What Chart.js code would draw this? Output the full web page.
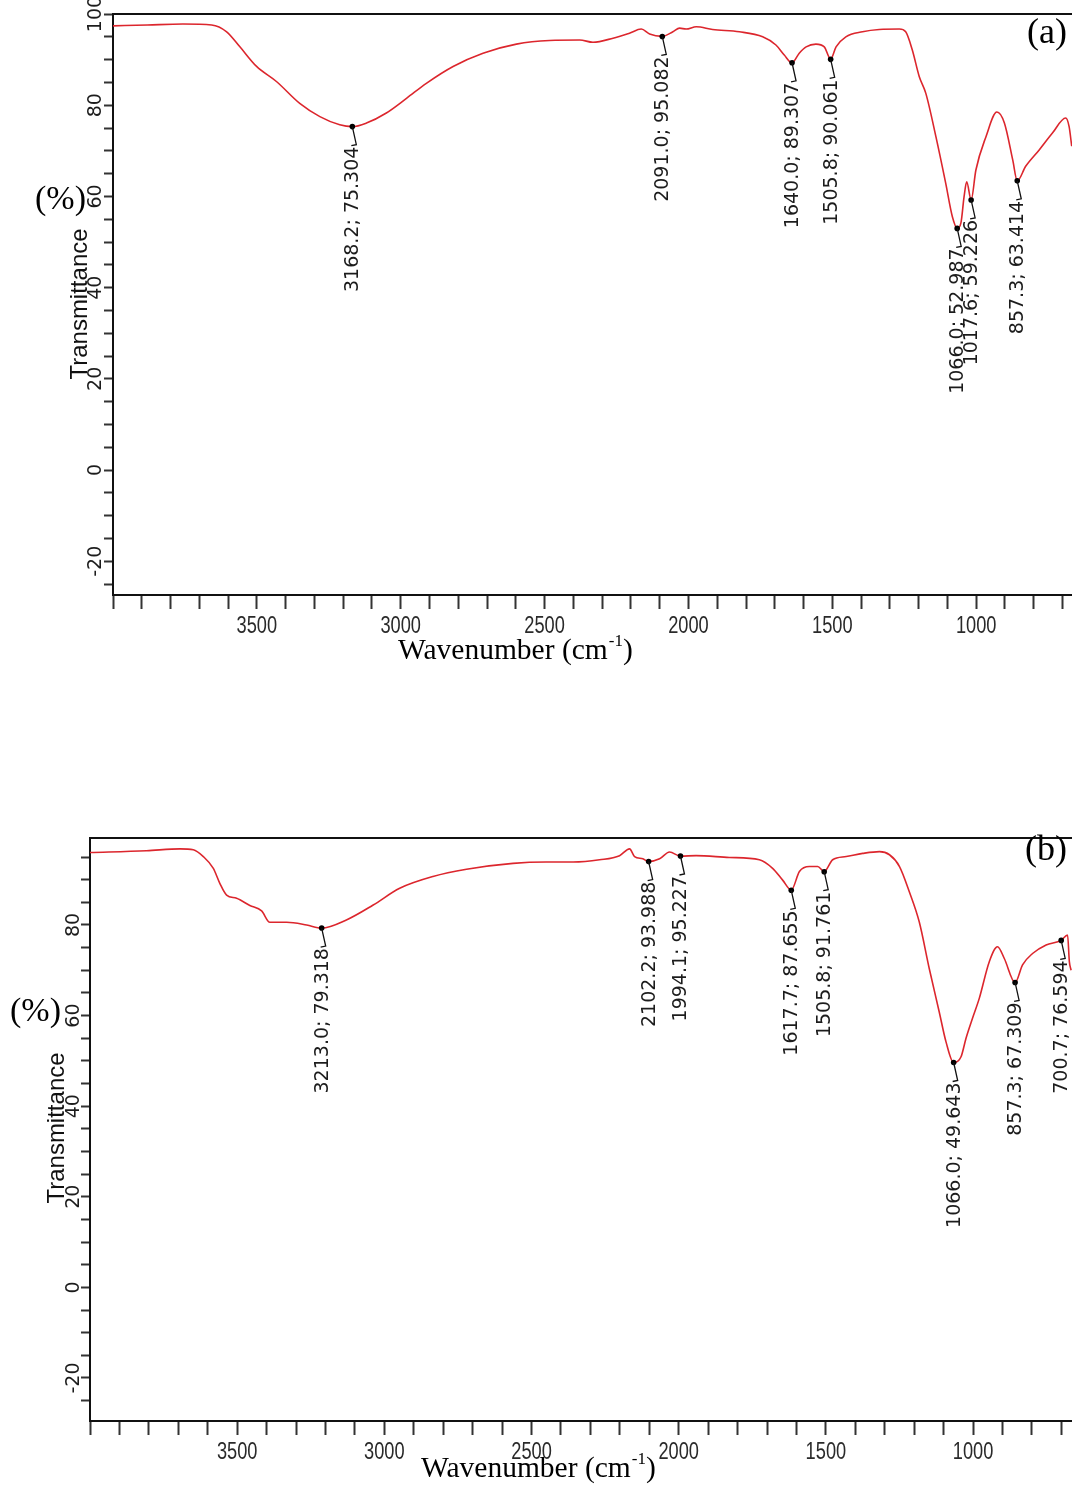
<!DOCTYPE html>
<html>
<head>
<meta charset="utf-8">
<script src="https://cdn.jsdelivr.net/npm/chart.js@4.4.0/dist/chart.umd.min.js"></script>
<style>
  body { margin: 0; background: #fff; overflow: hidden; width: 1072px; height: 1486px; position: relative; }
  canvas { position: absolute; left: 0; }
  #chartA { top: 0; }
  #chartB { top: 780px; }
</style>
</head>
<body>
<canvas id="chartA" width="1072" height="700"></canvas>
<canvas id="chartB" width="1072" height="706"></canvas>
<script>
// ---- spectrum (a) ----
const wavenumberA = [4000, 3880, 3757, 3657, 3605, 3559, 3501, 3432, 3351, 3281, 3212, 3168.2, 3119, 3050, 2980, 2911, 2818, 2714, 2598, 2483,
  2378, 2332, 2262, 2205, 2164, 2135, 2091, 2054, 2031, 2008, 1973, 1916, 1823, 1742, 1696, 1667, 1640, 1615, 1591, 1557,
  1528, 1505.8, 1487, 1453, 1395, 1337, 1267, 1245, 1222, 1198, 1175, 1140, 1106, 1083, 1066, 1053, 1042, 1033, 1017.6, 1001,
  966, 928, 902, 873, 857.3, 828, 781, 735, 689, 677, 668]
const transmittanceA = [97.4, 97.6, 97.8, 97.6, 96.1, 92.8, 88.5, 85.2, 80.4, 77.5, 75.7, 75.3, 76.1, 78.3, 81.5, 84.8, 88.5, 91.4, 93.4, 94.2,
  94.3, 93.8, 94.7, 95.8, 96.7, 95.6, 95.1, 96.1, 96.9, 96.7, 97.2, 96.6, 96.1, 95.0, 93.2, 91.0, 89.3, 91.4, 92.8, 93.4,
  92.8, 90.1, 92.8, 95.0, 96.1, 96.6, 96.7, 96.1, 92.1, 86.3, 82.6, 73.1, 62.9, 55.6, 53.0, 54.2, 60.0, 63.2, 59.2, 65.8,
  73.1, 78.5, 76.1, 68.0, 63.4, 66.6, 70.2, 73.9, 77.2, 75.3, 71.0]
const peakWnA = [3168.2, 2091.0, 1640.0, 1505.8, 1066.0, 1017.6, 857.3]
const peakTA = [75.304, 95.082, 89.307, 90.061, 52.987, 59.226, 63.414]

// ---- spectrum (b) ----
const wavenumberB = [4000, 3808, 3694, 3649, 3615, 3581, 3559, 3536, 3502, 3457, 3417, 3389, 3332, 3264, 3213, 3129, 3038, 2948, 2835, 2721,
  2563, 2450, 2359, 2269, 2201, 2167, 2150, 2122, 2102.2, 2065, 2031, 1994.1, 1941, 1828, 1726, 1681, 1647, 1617.7, 1590, 1556,
  1528, 1505.8, 1477, 1431, 1375, 1318, 1284, 1250, 1217, 1183, 1149, 1115, 1092, 1066, 1041, 1024, 1002, 979, 945, 917,
  894, 857.3, 832, 798, 752, 700.7, 679, 673, 667]
const transmittanceB = [96.0, 96.4, 96.8, 96.6, 95.1, 92.5, 89.2, 86.6, 85.9, 84.3, 83.1, 80.6, 80.6, 80.0, 79.3, 81.1, 84.4, 88.1, 90.7, 92.3,
  93.6, 93.9, 93.9, 94.4, 95.3, 96.8, 95.1, 94.6, 94.0, 94.6, 96.1, 95.2, 95.3, 94.9, 94.4, 92.5, 89.9, 87.7, 91.8, 92.9,
  92.9, 91.8, 94.4, 95.1, 95.8, 96.2, 95.5, 92.9, 87.4, 80.7, 70.4, 60.8, 54.2, 49.6, 50.9, 55.0, 59.4, 63.8, 71.9, 75.2,
  72.6, 67.3, 71.2, 73.7, 75.6, 76.6, 77.8, 71.9, 70.0]
const peakWnB = [3213.0, 2102.2, 1994.1, 1617.7, 1505.8, 1066.0, 857.3, 700.7]
const peakTB = [79.318, 93.988, 95.227, 87.655, 91.761, 49.643, 67.309, 76.594]

const xLabelValues = [3500, 3000, 2500, 2000, 1500, 1000]

const lineRed = '#dc262d'
const axisColor = '#111'

function toPoints(xs, ys) {
  return xs.map((v, i) => ({ x: v, y: ys[i] }))
}

// draws the things chart.js has no option for: top frame, rotated y labels,
// narrow x labels, peak call-outs, axis titles and the panel letter
function decorPlugin(cfg) {
  return {
    id: 'decor',
    afterDraw(chart) {
      const ctx = chart.ctx
      const area = chart.chartArea
      const xs = chart.scales.x
      const ys = chart.scales.y
      ctx.save()

      // top border
      ctx.strokeStyle = axisColor
      ctx.lineWidth = 2
      ctx.beginPath()
      ctx.moveTo(area.left - 1, area.top)
      ctx.lineTo(area.right, area.top)
      ctx.stroke()

      // y tick labels, rotated
      ctx.fillStyle = '#1c1c1c'
      ctx.font = '19px "DejaVu Sans"'
      ctx.textAlign = 'center'
      ctx.textBaseline = 'alphabetic'
      ys.ticks.forEach(function(t) {
        if (t.value % 20 !== 0) return
        ctx.save()
        ctx.translate(area.left - cfg.yLabelGap, ys.getPixelForValue(t.value))
        ctx.rotate(-Math.PI / 2)
        ctx.fillText(String(t.value), 0, 0)
        ctx.restore()
      })

      // x tick labels, horizontally squeezed like the original
      ctx.fillStyle = '#2a2a2a'
      ctx.font = '24px "Liberation Sans"'
      ctx.textAlign = 'center'
      xLabelValues.forEach(function(v) {
        ctx.save()
        ctx.translate(xs.getPixelForValue(v), area.bottom + 38)
        ctx.scale(0.76, 1)
        ctx.fillText(String(v), 0, 0)
        ctx.restore()
      })

      // peak leaders and labels
      ctx.strokeStyle = '#111'
      ctx.fillStyle = '#1c1c1c'
      ctx.lineWidth = 1.3
      ctx.font = '19px "DejaVu Sans"'
      ctx.textAlign = 'right'
      ctx.textBaseline = 'middle'
      cfg.peakWn.forEach(function(wn, i) {
        const px = xs.getPixelForValue(wn)
        const py = ys.getPixelForValue(cfg.peakT[i])
        const end = py + 19
        ctx.beginPath()
        ctx.moveTo(px, py)
        ctx.lineTo(px + 4, end - 1)
        ctx.lineTo(px - 1, end)
        ctx.stroke()
        ctx.save()
        ctx.translate(px + 1, end + 1)
        ctx.rotate(-Math.PI / 2)
        ctx.fillText(wn.toFixed(1) + '; ' + cfg.peakT[i].toFixed(3), 0, 0)
        ctx.restore()
      })

      // y title
      ctx.fillStyle = '#111'
      ctx.font = '24px "Liberation Sans"'
      ctx.textAlign = 'center'
      ctx.textBaseline = 'alphabetic'
      ctx.save()
      ctx.translate(cfg.yTitle[0], cfg.yTitle[1])
      ctx.rotate(-Math.PI / 2)
      ctx.fillText('Transmittance', 0, 0)
      ctx.restore()

      ctx.fillStyle = '#000'
      ctx.font = '34px "Liberation Serif"'
      ctx.textAlign = 'left'
      ctx.fillText('(%)', cfg.percent[0], cfg.percent[1])

      // x title with superscript
      let tx = cfg.xTitle[0]
      const ty = cfg.xTitle[1]
      ctx.font = '29.5px "Liberation Serif"'
      ctx.fillText('Wavenumber (cm', tx, ty)
      tx += ctx.measureText('Wavenumber (cm').width
      ctx.font = '17px "Liberation Serif"'
      ctx.fillText('-1', tx + 1, ty - 13)
      tx += ctx.measureText('-1').width + 1
      ctx.font = '29.5px "Liberation Serif"'
      ctx.fillText(')', tx, ty)

      // panel letter
      ctx.font = '36px "Liberation Serif"'
      ctx.textAlign = 'right'
      ctx.fillText(cfg.letter, cfg.letterPos[0], cfg.letterPos[1])

      ctx.restore()
    }
  }
}

function makeChart(id, wn, tr, pWn, pT, yMin, yMax, xMin, topPad, xAxisHeight, yAxisWidth, cfg) {
  return new Chart(document.getElementById(id), {
    type: 'scatter',
    data: {
      datasets: [{
        data: toPoints(wn, tr),
        showLine: true,
        borderColor: lineRed,
        borderWidth: 1.6,
        pointRadius: 0,
        cubicInterpolationMode: 'monotone',
        order: 2
      }, {
        data: toPoints(pWn, pT),
        showLine: false,
        pointRadius: 2.8,
        pointBackgroundColor: '#000',
        pointBorderWidth: 0,
        order: 1
      }]
    },
    options: {
      responsive: false,
      animation: false,
      events: [],
      layout: { autoPadding: false, padding: { top: topPad, left: 0, right: 0, bottom: 0 } },
      plugins: { legend: { display: false }, tooltip: { enabled: false } },
      scales: {
        x: {
          type: 'linear',
          reverse: true,
          min: xMin,
          max: 4000,
          afterFit: function(scale) { scale.height = xAxisHeight },
          border: { color: axisColor, width: 2 },
          grid: { drawOnChartArea: false, tickLength: 14, tickWidth: 2, tickColor: '#333' },
          ticks: { display: false, stepSize: 100, includeBounds: false, autoSkip: false, maxRotation: 0 }
        },
        y: {
          type: 'linear',
          min: yMin,
          max: yMax,
          afterFit: function(scale) { scale.width = yAxisWidth },
          border: { color: axisColor, width: 2 },
          grid: { drawOnChartArea: false, tickLength: 9, tickWidth: 2, tickColor: '#333' },
          ticks: { display: false, stepSize: 5, includeBounds: false }
        }
      }
    },
    plugins: [decorPlugin(cfg)]
  })
}

makeChart('chartA', wavenumberA, transmittanceA, peakWnA, peakTA, -27.4, 100, 667, 14, 105, 113, {
  peakWn: peakWnA, peakT: peakTA, yLabelGap: 12,
  yTitle: [87, 304], percent: [35, 209], xTitle: [398, 659],
  letter: '(a)', letterPos: [1067, 43]
})

makeChart('chartB', wavenumberB, transmittanceB, peakWnB, peakTB, -29.5, 99.2, 664, 58, 65, 90, {
  peakWn: peakWnB, peakT: peakTB, yLabelGap: 11,
  yTitle: [64, 348], percent: [10, 241], xTitle: [421, 697],
  letter: '(b)', letterPos: [1067, 80]
})
</script>
</body>
</html>
